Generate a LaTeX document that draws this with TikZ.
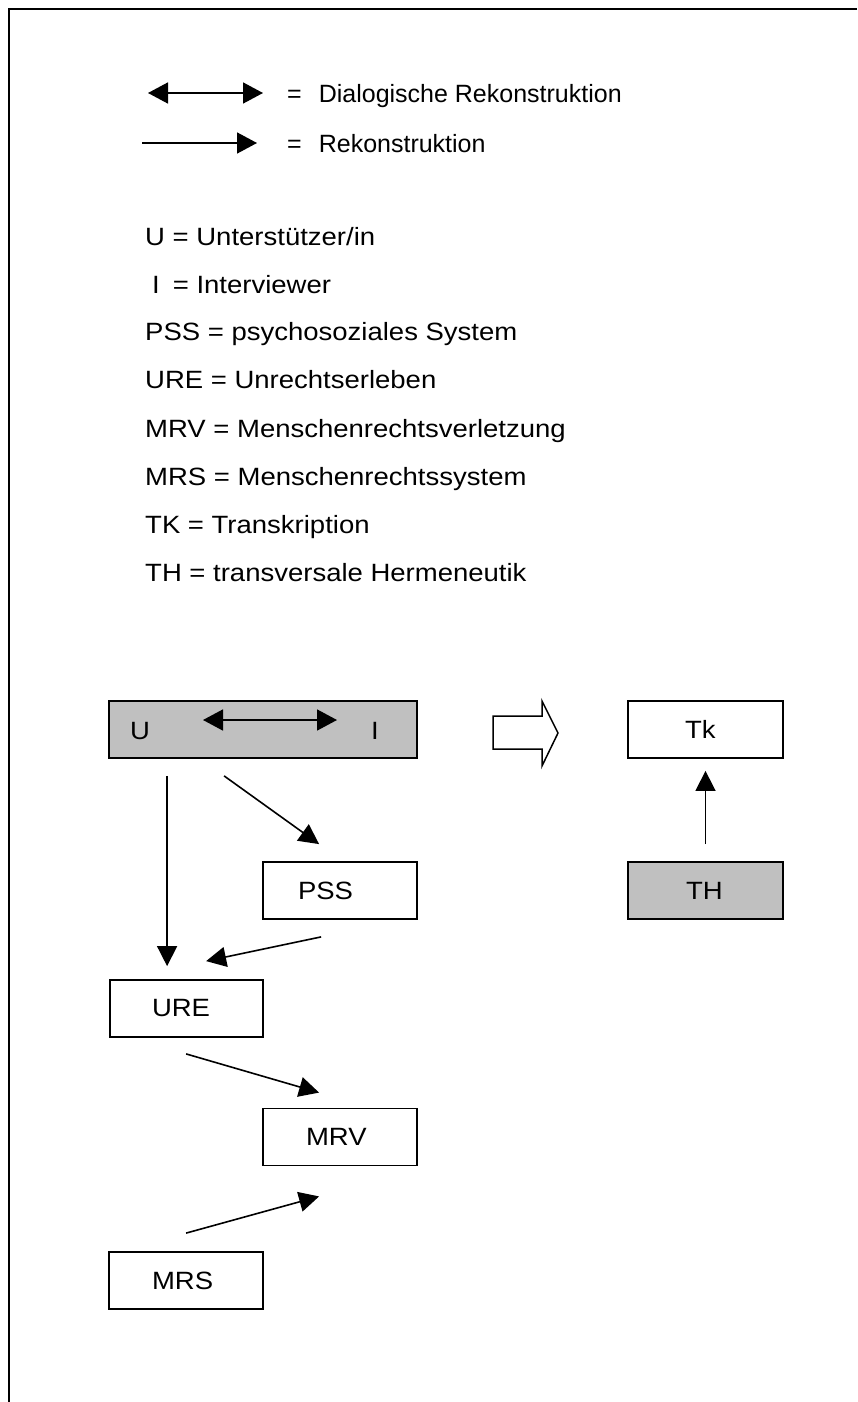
\documentclass[tikz,border=0pt]{standalone}
\usepackage{fontspec}
\setmainfont{Liberation Sans}[FakeStretch=1.1]
\newfontfamily\legendfont{Liberation Sans}
\usetikzlibrary{arrows.meta,calc}
\definecolor{boxgray}{HTML}{C0C0C0}
\begin{document}
\begin{tikzpicture}[x=1pt,y=-1pt,
  txt/.style={font=\fontsize{25}{30}\selectfont, inner sep=0pt, anchor=base west},
  toptxt/.style={txt, font=\legendfont\fontsize{25}{30}\selectfont},
  box/.style={draw, line width=1.8pt, rectangle, minimum height=57pt, inner ysep=0pt, align=left, font=\fontsize{25}{30}\selectfont},
  graybox/.style={box, fill=boxgray},
  arr/.style={line width=1.6pt, -{Triangle[length=20pt,width=20pt]}},
  dbl/.style={line width=1.6pt, {Triangle[length=20pt,width=21pt]}-{Triangle[length=20pt,width=21pt]}},
  blockarrow/.style={draw, line width=1.5pt, fill=white, line join=miter}
]
\useasboundingbox (0,0) rectangle (857,1402);
% frame
\draw[line width=1.8pt] (9,1402) -- (9,9) -- (857,9);

% legend arrows
\coordinate (la1) at (148,93);
\coordinate (lb1) at (263,93);
\coordinate (la2) at (142,143);
\coordinate (lb2) at (257,143);
\draw[dbl] (la1) -- (lb1);
\draw[line width=1.6pt, -{Triangle[length=20pt,width=21pt]}] (la2) -- (lb2);
\node[toptxt] (l1) at (287,103) {=\hspace{17pt}Dialogische Rekonstruktion};
\node[toptxt] (l2) at (287,152) {=\hspace{17pt}Rekonstruktion};

% abbreviations
\node[txt] (a1) at (145,245) {U = Unterstützer/in};
\node[txt] (a2) at (152,293) {I\hspace{13pt}= Interviewer};
\node[txt] (a3) at (145,340) {PSS = psychosoziales System};
\node[txt] (a4) at (145,388) {URE = Unrechtserleben};
\node[txt] (a5) at (145,437) {MRV = Menschenrechtsverletzung};
\node[txt] (a6) at (145,485) {MRS = Menschenrechtssystem};
\node[txt] (a7) at (145,533) {TK = Transkription};
\node[txt] (a8) at (145,581) {TH = transversale Hermeneutik};

% diagram boxes
\node[graybox, minimum width=308pt, inner xsep=0pt] (ui) at (263,729.5) {};
\node[txt, anchor=center] (u) at (140,731) {U};
\node[txt, anchor=center] (i) at (375,731) {I};
\coordinate (ua) at (203,720);
\coordinate (ia) at (337,720);
\draw[dbl] (ua) -- (ia);

\node[box, minimum width=155pt, inner xsep=57pt, text width=41pt] (tk) at (705.5,729.5) {Tk};
\node[graybox, minimum width=155pt, inner xsep=58pt, text width=39pt] (th) at (705.5,890.5) {TH};
\node[box, minimum width=154pt, inner xsep=35pt, text width=84pt] (pss) at (340,890.5) {PSS};
\node[box, minimum width=153pt, inner xsep=42pt, text width=69pt] (ure) at (186.5,1008.5) {URE};
\node[box, minimum width=154pt, inner xsep=43pt, text width=68pt] (mrv) at (340,1137) {MRV};
\node[box, minimum width=154pt, inner xsep=43pt, text width=68pt] (mrs) at (186,1280.5) {MRS};

% block arrow
\draw[blockarrow] (493,716) -- (542,716) -- (542,701) -- (558,733) -- (542,766) -- (542,749) -- (493,749) -- cycle;

% connectors
\draw[arr] ($(ui.south west)+(59,17)$) -- ($(ure.north west)+(58,-13)$);
\draw[arr] ($(ui.south west)+(116,17)$) -- ($(pss.north west)+(57,-17)$);
\draw[arr] ($(pss.south west)+(59,17)$) -- ($(ure.north west)+(97,-18)$);
\draw[arr] ($(ure.south west)+(77,16)$) -- ($(mrv.north west)+(57,-15)$);
\draw[arr] ($(mrs.north west)+(78,-18)$) -- ($(mrv.south west)+(57,30)$);
\draw[arr] ($(th.north)+(0,-17)$) -- ($(tk.south)+(0,12)$);
\end{tikzpicture}
\end{document}
